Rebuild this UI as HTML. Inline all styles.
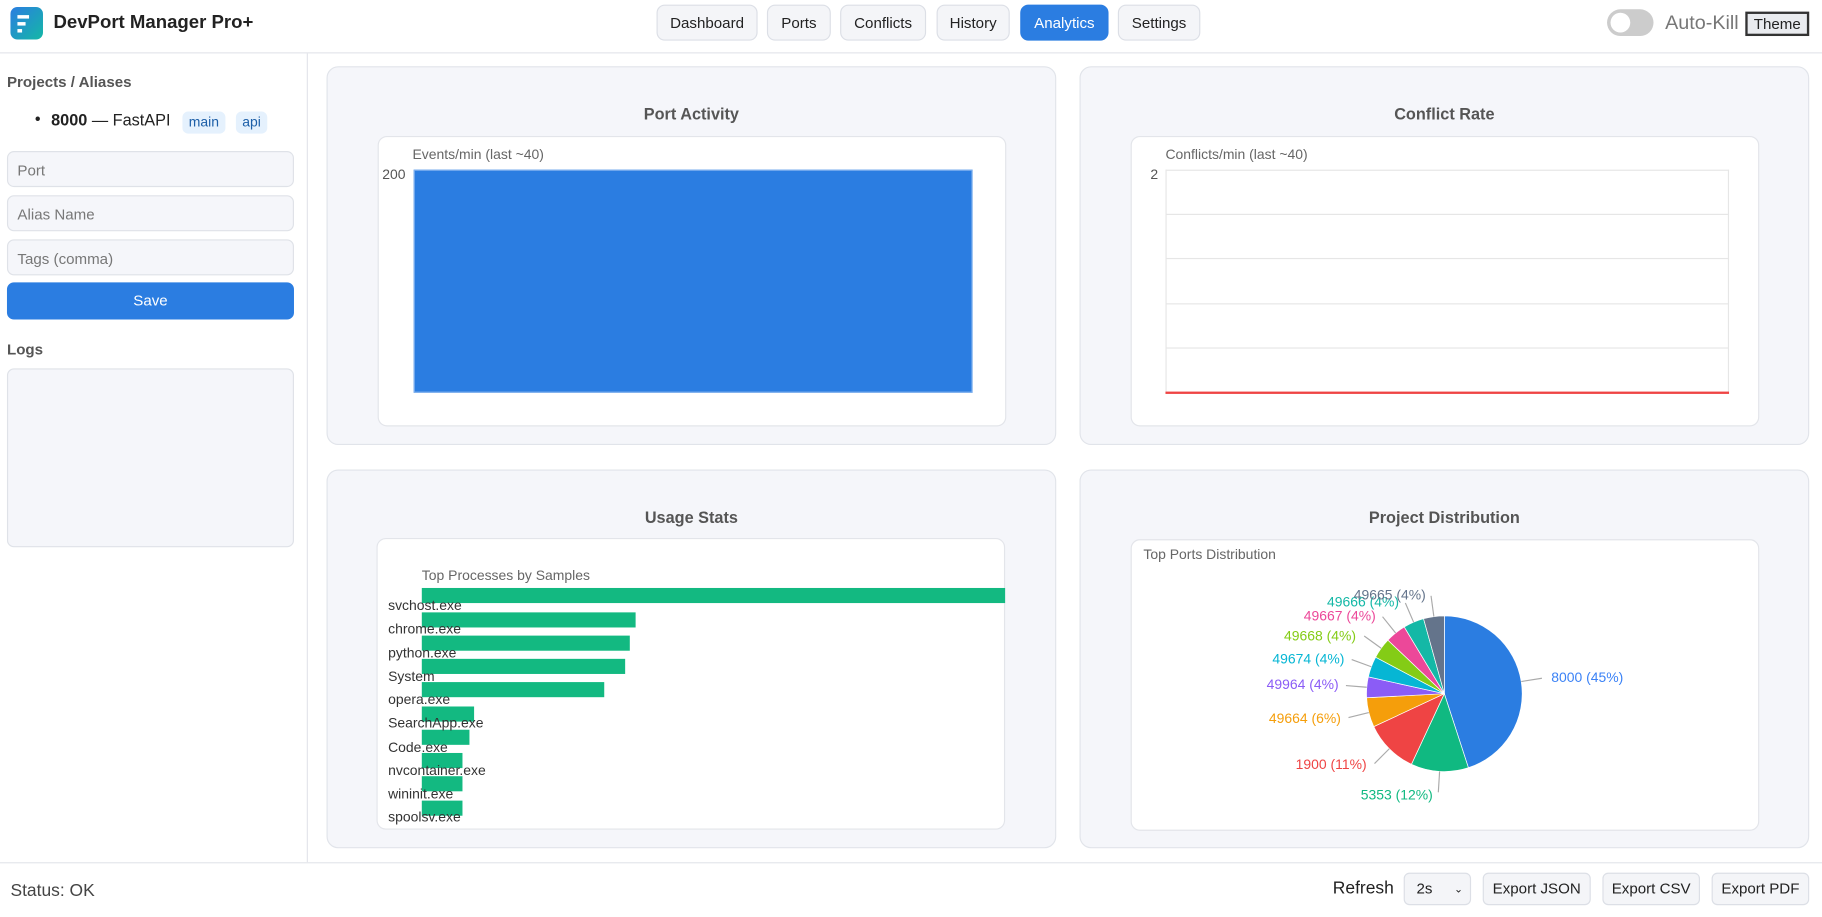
<!DOCTYPE html>
<html><head><meta charset="utf-8"><style>
*{box-sizing:border-box;margin:0;padding:0}
html,body{width:1822px;height:916px;overflow:hidden;background:#fff;font-family:"Liberation Sans",Arial,sans-serif}
#w{position:absolute;left:0;top:0;width:1568px;height:789px;transform:scale(1.16199);transform-origin:0 0;color:#222}
.a{position:absolute}
.btn{position:absolute;top:4px;height:31px;border:1px solid #dcdfe6;border-radius:7px;background:#f4f5f8;font-size:13px;line-height:29px;text-align:center;color:#222}
.card{position:absolute;background:#f5f6fa;border:1px solid #e1e4ea;border-radius:10px}
.card h3{position:absolute;left:0;right:0;top:32px;text-align:center;font-size:14px;color:#555}
.in{position:absolute;left:43px;width:541px;background:#fff;border:1px solid #e3e5ea;border-radius:8px}
.inp{position:absolute;left:6px;width:247px;height:31px;background:#f5f6fa;border:1px solid #dfe2e8;border-radius:6px;font-size:13px;color:#777;padding:8px}
.fb{position:absolute;top:751px;height:28px;border:1px solid #dcdfe6;border-radius:5px;background:#f4f5f8;font-size:13px;line-height:26px;text-align:center}
.lbl{position:absolute;left:334px;font-size:12px;color:#333}
.bar{position:absolute;left:363px;height:13px;background:#13b981}
</style></head><body><div id="w">
<div class="a" style="left:0;top:0;width:1568px;height:46px;border-bottom:1px solid #e3e5ea"></div>
<div class="a" style="left:9px;top:6px;width:28px;height:28px;border-radius:6px;background:linear-gradient(135deg,#2b7de1,#14b8a6)"></div>
<div class="a" style="left:15px;top:13px;width:10px;height:3px;background:#fff"></div>
<div class="a" style="left:15px;top:19px;width:7px;height:3px;background:#fff"></div>
<div class="a" style="left:15px;top:25px;width:4px;height:3px;background:#fff"></div>
<div class="a" style="left:46px;top:11px;font-size:16px;font-weight:bold">DevPort Manager Pro+</div>
<div class="btn" style="left:565px;width:87px">Dashboard</div>
<div class="btn" style="left:660px;width:55px">Ports</div>
<div class="btn" style="left:723px;width:74px">Conflicts</div>
<div class="btn" style="left:806px;width:63px">History</div>
<div class="btn" style="left:878px;width:76px;background:#2b7de1;border-color:#2b7de1;color:#fff">Analytics</div>
<div class="btn" style="left:962px;width:71px">Settings</div>
<div class="a" style="left:1383px;top:8px;width:40px;height:23px;border-radius:12px;background:#ccc"></div>
<div class="a" style="left:1386px;top:11px;width:17px;height:17px;border-radius:50%;background:#fff"></div>
<div class="a" style="left:1433px;top:10px;font-size:17px;color:#777">Auto-Kill</div>
<div class="a" style="left:1502px;top:10px;width:55px;height:21px;border:2px solid #333;background:#e9ebef;font-size:13px;text-align:center;line-height:17px">Theme</div>

<div class="a" style="left:264px;top:46px;width:1px;height:696px;background:#e3e5ea"></div>
<div class="a" style="left:6px;top:63px;font-size:13px;font-weight:bold;color:#555">Projects / Aliases</div>
<div class="a" style="left:30px;top:95px;font-size:14px"><span style="position:absolute;left:0;top:-1px">•</span><span style="position:absolute;left:14px;white-space:nowrap"><b>8000</b> — FastAPI</span></div>
<div class="a" style="left:157px;top:96px;width:37px;height:19px;border-radius:5px;background:#e5f1fd;color:#1d5fa8;font-size:12px;text-align:center;line-height:19px">main</div>
<div class="a" style="left:203px;top:96px;width:27px;height:19px;border-radius:5px;background:#e5f1fd;color:#1d5fa8;font-size:12px;text-align:center;line-height:19px">api</div>
<div class="inp" style="top:130px">Port</div>
<div class="inp" style="top:168px">Alias Name</div>
<div class="inp" style="top:206px">Tags (comma)</div>
<div class="a" style="left:6px;top:243px;width:247px;height:32px;border-radius:6px;background:#2b7de1;color:#fff;font-size:13px;text-align:center;line-height:32px">Save</div>
<div class="a" style="left:6px;top:293px;font-size:13px;font-weight:bold;color:#555">Logs</div>
<div class="a" style="left:6px;top:317px;width:247px;height:154px;background:#f5f6fa;border:1px solid #dfe2e8;border-radius:6px"></div>

<div class="card" style="left:281px;top:57px;width:628px;height:326px"><h3>Port Activity</h3>
<div class="in" style="top:59px;height:250px">
<div class="a" style="left:29px;top:8px;font-size:12px;color:#666">Events/min (last ~40)</div>
<div class="a" style="left:3px;top:25px;font-size:12px;color:#555">200</div>
<div class="a" style="left:30px;top:28px;width:481px;height:192px;background:#2b7de1;border:1px solid #7fb0ee"></div>
</div></div>

<div class="card" style="left:929px;top:57px;width:628px;height:326px"><h3>Conflict Rate</h3>
<div class="in" style="top:59px;height:250px">
<div class="a" style="left:29px;top:8px;font-size:12px;color:#666">Conflicts/min (last ~40)</div>
<div class="a" style="left:16px;top:25px;font-size:12px;color:#555">2</div>
<div class="a" style="left:29px;top:28px;width:485px;height:193px;border:1px solid #e6e6e6;border-bottom:none"></div>
<div class="a" style="left:29px;top:66px;width:485px;height:1px;background:#e6e6e6"></div>
<div class="a" style="left:29px;top:104px;width:485px;height:1px;background:#e6e6e6"></div>
<div class="a" style="left:29px;top:143px;width:485px;height:1px;background:#e6e6e6"></div>
<div class="a" style="left:29px;top:181px;width:485px;height:1px;background:#e6e6e6"></div>
<div class="a" style="left:29px;top:219px;width:485px;height:2px;background:#ef4444"></div>
</div></div>

<div class="card" style="left:281px;top:404px;width:628px;height:326px"><h3>Usage Stats</h3></div>
<div class="a" style="left:324px;top:463px;width:541px;height:251px;background:#fff;border:1px solid #e3e5ea;border-radius:8px"></div>
<div class="a" style="left:363px;top:488px;font-size:12px;color:#666">Top Processes by Samples</div>
<div class="bar" style="top:506px;width:502px"></div>
<div class="bar" style="top:527px;width:184px"></div>
<div class="bar" style="top:547px;width:179px"></div>
<div class="bar" style="top:567px;width:175px"></div>
<div class="bar" style="top:587px;width:157px"></div>
<div class="bar" style="top:608px;width:45px"></div>
<div class="bar" style="top:628px;width:41px"></div>
<div class="bar" style="top:648px;width:35px"></div>
<div class="bar" style="top:668px;width:35px"></div>
<div class="bar" style="top:689px;width:35px"></div>
<div class="lbl" style="top:514px">svchost.exe</div>
<div class="lbl" style="top:534px">chrome.exe</div>
<div class="lbl" style="top:555px">python.exe</div>
<div class="lbl" style="top:575px">System</div>
<div class="lbl" style="top:595px">opera.exe</div>
<div class="lbl" style="top:615px">SearchApp.exe</div>
<div class="lbl" style="top:636px">Code.exe</div>
<div class="lbl" style="top:656px">nvcontainer.exe</div>
<div class="lbl" style="top:676px">wininit.exe</div>
<div class="lbl" style="top:696px">spoolsv.exe</div>

<div class="card" style="left:929px;top:404px;width:628px;height:326px"><h3>Project Distribution</h3>
<div class="in" style="top:59px;height:251px">
<div class="a" style="left:10px;top:5px;font-size:12px;color:#666">Top Ports Distribution</div>
</div></div>
<svg class="a" style="left:0;top:0" width="1568" height="789" id="pie" font-family="Liberation Sans,Arial,sans-serif" font-size="12"></svg>

<div class="a" style="left:0;top:742px;width:1568px;height:1px;background:#e3e5ea"></div>
<div class="a" style="left:9px;top:758px;font-size:15px;color:#444">Status: OK</div>
<div class="a" style="left:1147px;top:756px;font-size:15px">Refresh</div>
<div class="fb" style="left:1208px;width:58px;text-align:left;padding-left:10px">2s<span style="position:absolute;right:6px;font-size:9px">⌄</span></div>
<div class="fb" style="left:1276px;width:93px">Export JSON</div>
<div class="fb" style="left:1379px;width:84px">Export CSV</div>
<div class="fb" style="left:1473px;width:84px">Export PDF</div>
</div>
<script>
var s=document.getElementById('pie'),cx=1243,cy=597,r=67;
var d=[[0,162,'#2b7de1'],[162,205,'#10b981'],[205,245,'#ef4444'],[245,267,'#f59e0b'],[267,282.5,'#8b5cf6'],[282.5,298,'#06b6d4'],[298,313.5,'#84cc16'],[313.5,329,'#ec4899'],[329,344.5,'#14b8a6'],[344.5,360,'#64748b']];
function p(a,rr){a=a*Math.PI/180;return [cx+rr*Math.sin(a),cy-rr*Math.cos(a)];}
var h='';
d.forEach(function(x){var a=p(x[0],r),b=p(x[1],r),l=(x[1]-x[0])>180?1:0;
h+='<path d="M'+cx+','+cy+'L'+a[0]+','+a[1]+'A'+r+','+r+' 0 '+l+' 1 '+b[0]+','+b[1]+'Z" fill="'+x[2]+'" stroke="#fff" stroke-width="0.6"/>';
var m=(x[0]+x[1])/2,q=p(m,r),t=p(m,r+18);h+='<line x1="'+q[0]+'" y1="'+q[1]+'" x2="'+t[0]+'" y2="'+t[1]+'" stroke="#aaa"/>';});
var L=[['8000 (45%)',1335,587,'#3b82f6'],['5353 (12%)',1171,688,'#10b981'],['1900 (11%)',1115,662,'#ef4444'],['49664 (6%)',1092,622,'#f59e0b'],['49964 (4%)',1090,593,'#8b5cf6'],['49674 (4%)',1095,571,'#06b6d4'],['49668 (4%)',1105,551,'#84cc16'],['49667 (4%)',1122,534,'#ec4899'],['49666 (4%)',1142,522,'#14b8a6'],['49665 (4%)',1165,516,'#64748b']];
L.forEach(function(x){h+='<text x="'+x[1]+'" y="'+x[2]+'" fill="'+x[3]+'">'+x[0]+'</text>';});
s.innerHTML=h;
</script>
</body></html>
